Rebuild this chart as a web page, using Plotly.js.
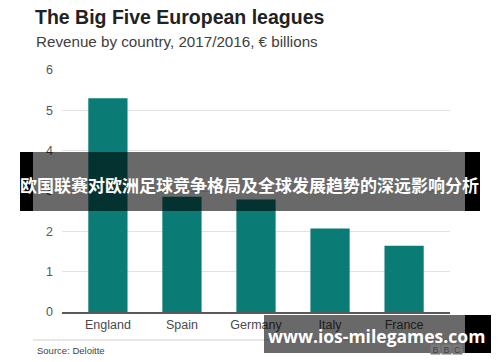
<!DOCTYPE html>
<html>
<head>
<meta charset="utf-8">
<script src="https://cdn.plot.ly/plotly-3.0.1.min.js"></script>
<style>html,body{margin:0;padding:0;background:#fff;}#chart{width:500px;height:362px;}</style>
</head>
<body>
<div id="chart"></div>
<script>
var countries = ["England", "Spain", "Germany", "Italy", "France"];
var revenue = [5.30, 2.86, 2.79, 2.07, 1.64];
var yTicks = [0, 1, 2, 3, 4, 5, 6];

var titleText = "The Big Five European leagues";
var subtitleText = "Revenue by country, 2017/2016, € billions";
var sourceText = "Source: Deloitte";
var bannerText = "欧国联赛对欧洲足球竞争格局及全球发展趋势的深远影响分析";
var siteText = "www.ios-milegames.com";

var F = "Liberation Sans, Arial, Helvetica, sans-serif";

var trace = {
  type: "bar",
  x: countries,
  y: revenue,
  marker: {color: "#0b7b75"},
  width: 0.53,
  hoverinfo: "x+y"
};

var px = function (x) { return (x - 62) / 388; };
var py = function (y) { return (312 - y) / 242; };

var layout = {
  width: 500,
  height: 362,
  margin: {l: 62, r: 50, t: 70, b: 50},
  paper_bgcolor: "#ffffff",
  plot_bgcolor: "#ffffff",
  showlegend: false,
  title: {
    text: "<b>" + titleText + "</b>",
    x: 35 / 500, xanchor: "left", xref: "container",
    y: 1 - 17 / 362, yanchor: "middle", yref: "container",
    font: {family: F, size: 19.5, color: "#222222"}
  },
  xaxis: {
    range: [-0.62, 4.62],
    showgrid: false,
    showline: true,
    linecolor: "#5a5a5a",
    linewidth: 1.5,
    ticks: "",
    tickfont: {family: F, size: 12.5, color: "#4a4a4a"},
    fixedrange: true
  },
  yaxis: {
    range: [0, 6],
    tickvals: yTicks,
    ticktext: yTicks.map(String),
    showgrid: true,
    gridcolor: "#e2e2e2",
    gridwidth: 1,
    zeroline: false,
    showline: false,
    ticks: "",
    ticklabelstandoff: 8,
    tickfont: {family: F, size: 12.5, color: "#555555"},
    fixedrange: true
  },
  shapes: [
    {type: "line", xref: "paper", yref: "paper", x0: px(33), x1: px(463), y0: py(340), y1: py(340),
     line: {color: "#cfcfcf", width: 1}, layer: "above"},
    {type: "rect", xref: "paper", yref: "paper", x0: px(20), x1: px(33), y0: py(152), y1: py(211),
     fillcolor: "#000000", line: {width: 0}, layer: "above"},
    {type: "rect", xref: "paper", yref: "paper", x0: px(33), x1: px(465), y0: py(152), y1: py(211),
     fillcolor: "rgba(0,0,0,0.59)", line: {width: 0}, layer: "above"},
    {type: "rect", xref: "paper", yref: "paper", x0: px(465), x1: px(480), y0: py(152), y1: py(211),
     fillcolor: "#000000", line: {width: 0}, layer: "above"},
    {type: "rect", xref: "paper", yref: "paper", x0: px(264), x1: px(465), y0: py(315), y1: py(353),
     fillcolor: "rgba(0,0,0,0.59)", line: {width: 0}, layer: "above"},
    {type: "rect", xref: "paper", yref: "paper", x0: px(465), x1: px(491), y0: py(315), y1: py(353),
     fillcolor: "#000000", line: {width: 0}, layer: "above"}
  ],
  annotations: [
    {text: subtitleText, xref: "paper", yref: "paper", x: px(34), y: py(41.5),
     xanchor: "left", yanchor: "middle", showarrow: false,
     font: {family: F, size: 15.2, color: "#404040"}},
    {text: sourceText, xref: "paper", yref: "paper", x: px(35), y: py(350),
     xanchor: "left", yanchor: "middle", showarrow: false,
     font: {family: F, size: 9.5, color: "#444444"}},
    {text: "<b>" + bannerText + "</b>", xref: "paper", yref: "paper", x: px(249), y: py(184),
     xanchor: "center", yanchor: "middle", showarrow: false,
     font: {family: "Noto Sans CJK SC, sans-serif", size: 17, color: "#ffffff"}},
    {text: "<b>" + siteText + "</b>", xref: "paper", yref: "paper", x: px(376), y: py(336),
     xanchor: "center", yanchor: "middle", showarrow: false,
     font: {family: "Open Sans, sans-serif", size: 17.5, color: "#ffffff"}},
    {text: "B", xref: "paper", yref: "paper", x: px(435), y: py(349.5), xanchor: "center", yanchor: "middle",
     showarrow: false, bgcolor: "#7a7a7a", width: 9, height: 9, borderpad: 0,
     font: {family: F, size: 9, color: "#444444"}},
    {text: "B", xref: "paper", yref: "paper", x: px(446), y: py(349.5), xanchor: "center", yanchor: "middle",
     showarrow: false, bgcolor: "#7a7a7a", width: 9, height: 9, borderpad: 0,
     font: {family: F, size: 9, color: "#444444"}},
    {text: "C", xref: "paper", yref: "paper", x: px(457), y: py(349.5), xanchor: "center", yanchor: "middle",
     showarrow: false, bgcolor: "#7a7a7a", width: 9, height: 9, borderpad: 0,
     font: {family: F, size: 9, color: "#444444"}}
  ]
};

Plotly.newPlot("chart", [trace], layout, {displayModeBar: false, staticPlot: true});
</script>
</body>
</html>
